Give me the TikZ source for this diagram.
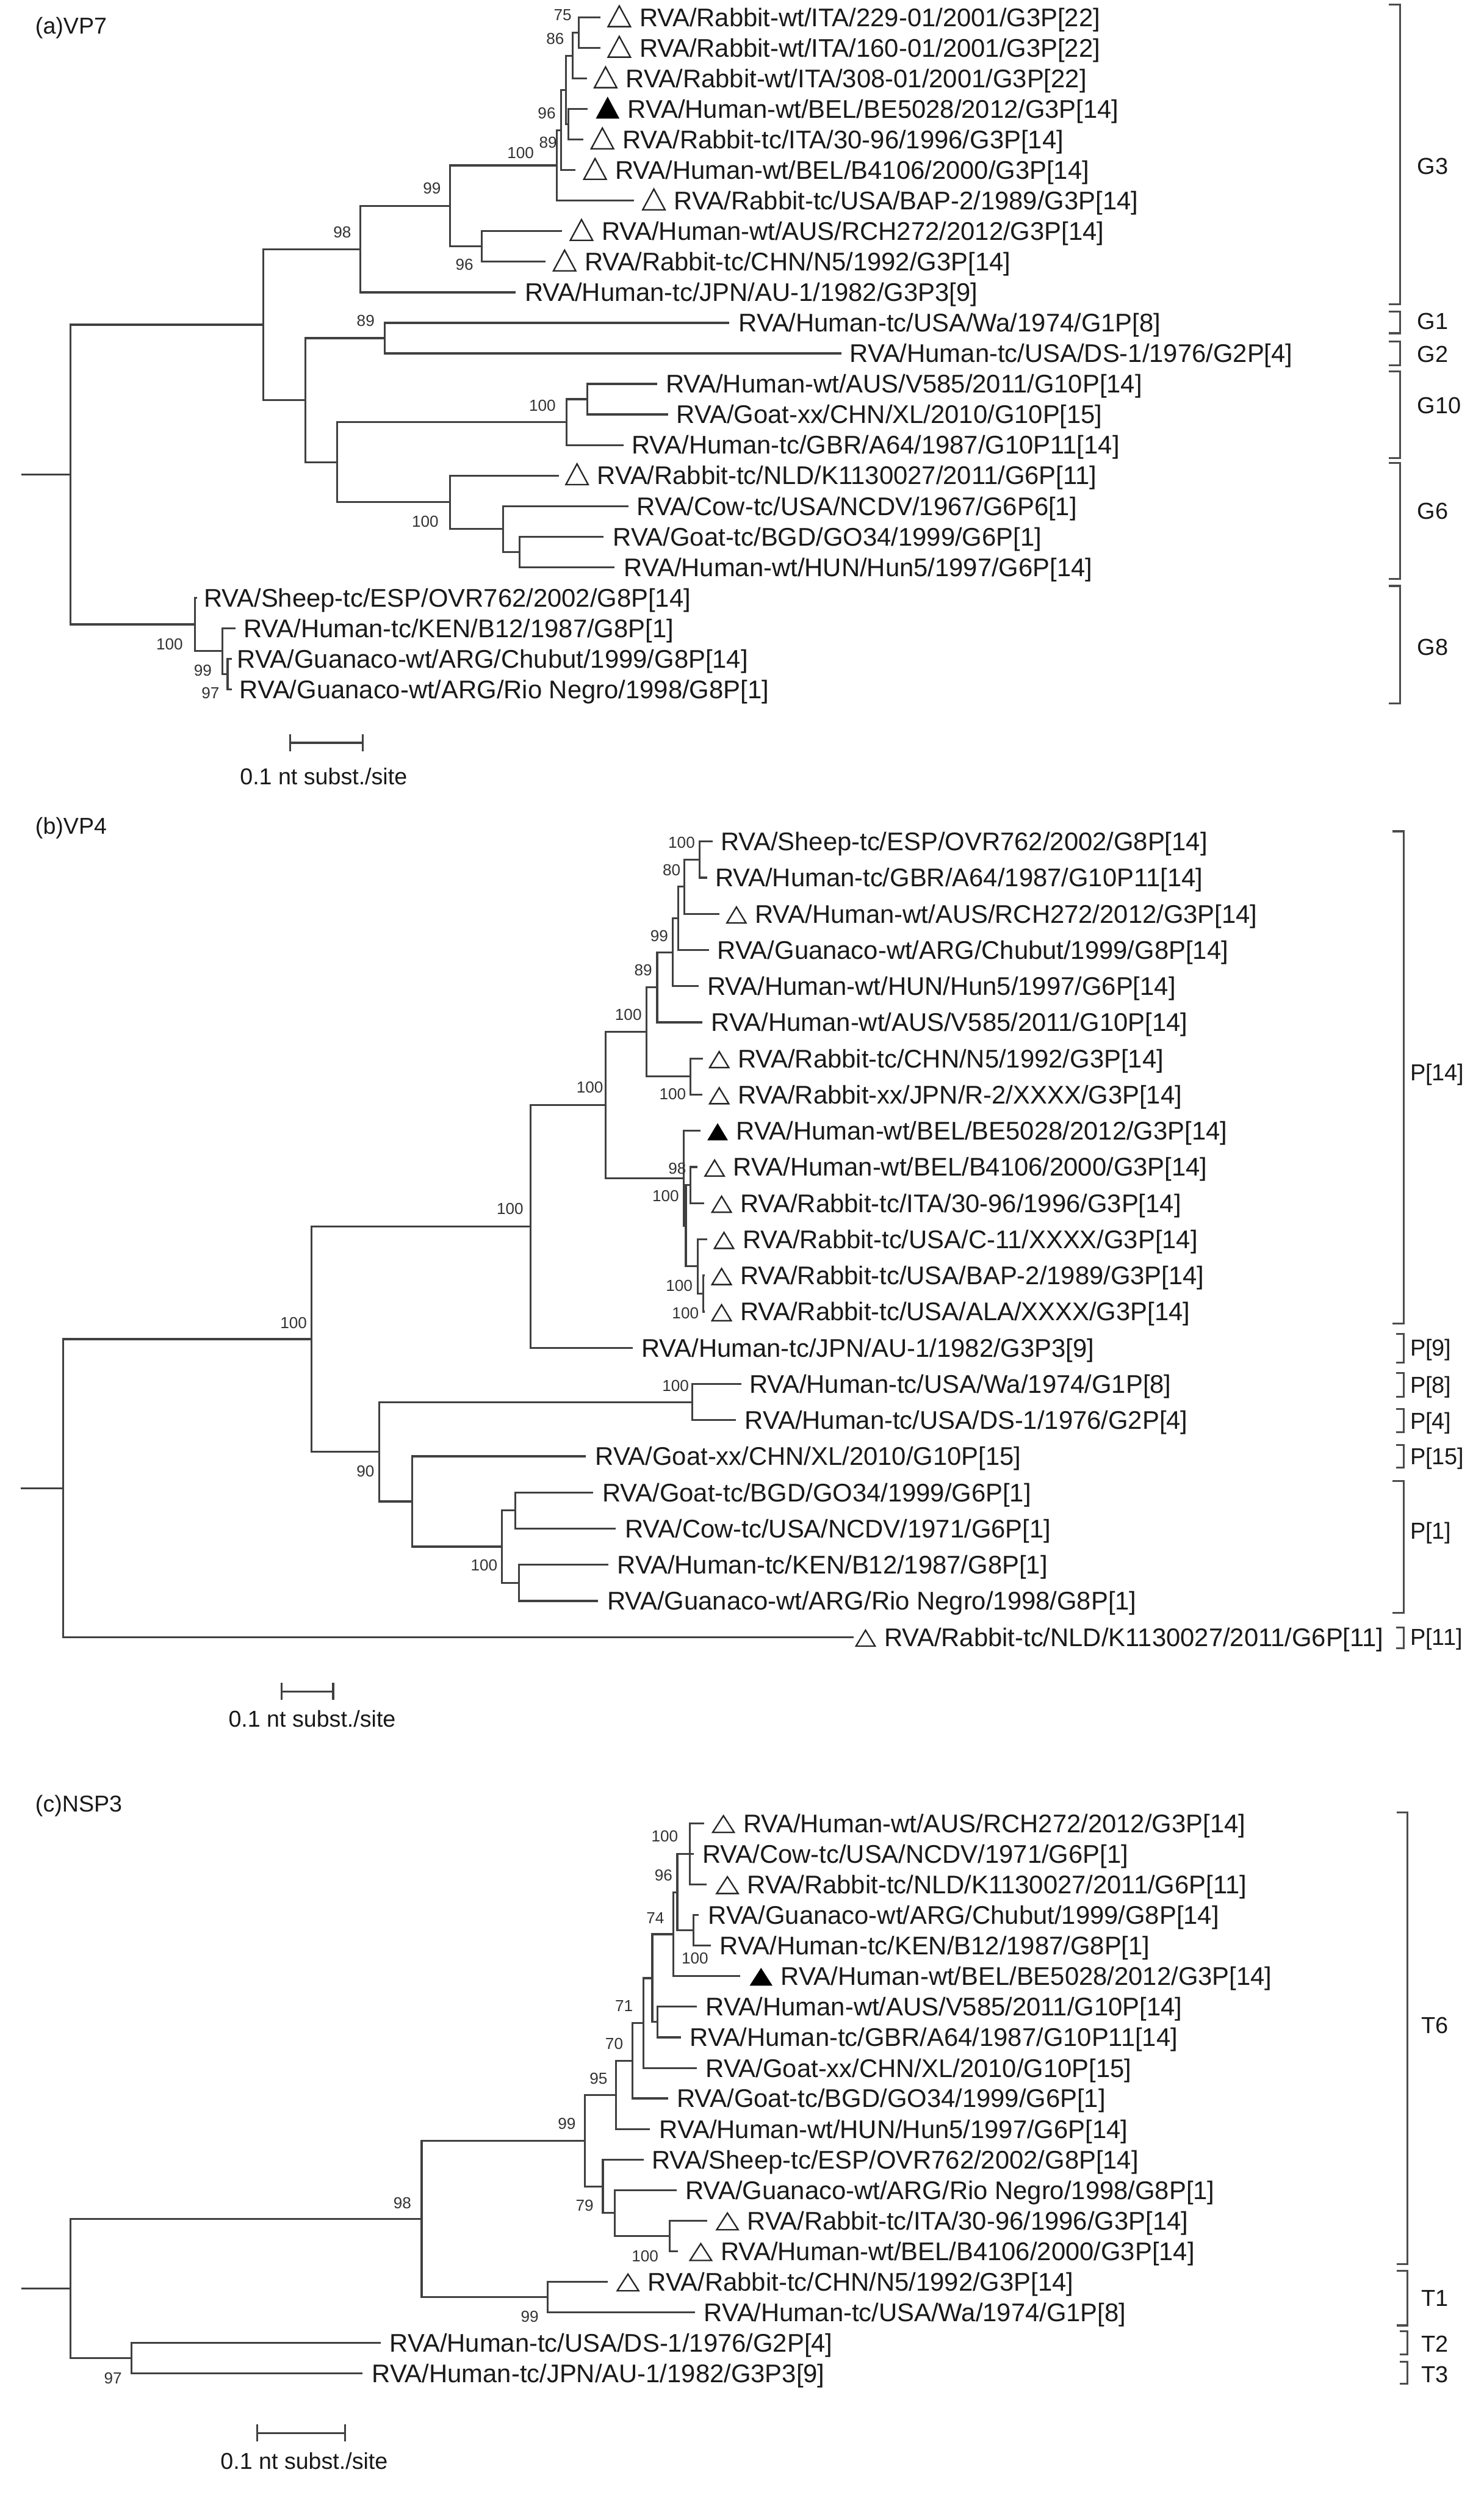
\documentclass[tikz,border=0pt]{standalone}
\usepackage{fontspec}
\setmainfont{Liberation Sans}
\newcommand\leafn[5]{\coordinate (#1) at (#2,#3); \node[lbl] (#1t) at (#4,{#3+5.7}) {#5};}
\newcommand\leafo[5]{\leafn{#1}{#2}{#3}{#4}{#5}\draw[otri] ({#4-5.5-\tw},{#3+5.7}) -- ++(\tw,0) -- ++({-\tw/2},{-\th}) -- cycle;}
\newcommand\leaff[5]{\leafn{#1}{#2}{#3}{#4}{#5}\draw[ftri] ({#4-5.5-\tw},{#3+5.7}) -- ++(\tw,0) -- ++({-\tw/2},{-\th}) -- cycle;}
\newcommand\jn[2]{\foreach \cc in {#2}{\draw[br] (#1) |- (\cc);}}
\newcommand\ip[3]{\coordinate (#1) at (#2,#3);}
\newcommand\bsv[4]{\node[bsl] (#1) at (#2,#3) {#4};}
\newcommand\cladebrack[4]{\draw[brk] ({#1-#4},#2) -- (#1,#2) -- (#1,#3) -- ({#1-#4},#3);}
\newcommand\cladelab[4]{\node[cld] (#1) at (#2,{#3+5.2}) {#4};}
\begin{document}
\begin{tikzpicture}[x=1pt,y=-1pt,
  br/.style={draw=black!75,line width=1.2pt},
  lbl/.style={font=\fontsize{16}{19}\selectfont,text=black!90,inner sep=0pt,anchor=base west},
  bsl/.style={font=\fontsize{10}{12}\selectfont,text=black!80,inner sep=0pt},
  cld/.style={font=\fontsize{14.5}{17}\selectfont,text=black!90,inner sep=0pt,anchor=base west},
  brk/.style={draw=black!70,line width=1.2pt},
  otri/.style={draw=black!85,line width=0.9pt,line join=miter},
  ftri/.style={draw=black,fill=black,line width=0.5pt},
  ttl/.style={font=\fontsize{14.4}{17}\selectfont,text=black!90,inner sep=0pt,anchor=base west},
  scl/.style={font=\fontsize{14.4}{17}\selectfont,text=black!90,inner sep=0pt,anchor=base}]
\fill[white] (0,0) rectangle (931,1568);
\useasboundingbox (0,0) rectangle (931,1568);

% ================= (a) VP7 =================
\node[ttl] (ta) at (22,21.2) {(a)VP7};
\def\tw{14}\def\th{13}
\leafo{a1}{376.6}{11.0}{401}{RVA/Rabbit-wt/ITA/229-01/2001/G3P[22]}
\leafo{a2}{376.6}{30.15}{401}{RVA/Rabbit-wt/ITA/160-01/2001/G3P[22]}
\leafo{a3}{368.1}{49.3}{392.4}{RVA/Rabbit-wt/ITA/308-01/2001/G3P[22]}
\leaff{a4}{368.7}{68.45}{393.7}{RVA/Human-wt/BEL/BE5028/2012/G3P[14]}
\leafo{a5}{366.1}{87.6}{390.4}{RVA/Rabbit-tc/ITA/30-96/1996/G3P[14]}
\leafo{a6}{360.8}{106.75}{385.8}{RVA/Human-wt/BEL/B4106/2000/G3P[14]}
\leafo{a7}{397.7}{125.9}{422.7}{RVA/Rabbit-tc/USA/BAP-2/1989/G3P[14]}
\leafo{a8}{352.7}{145.05}{377.3}{RVA/Human-wt/AUS/RCH272/2012/G3P[14]}
\leafo{a9}{342.1}{164.2}{366.7}{RVA/Rabbit-tc/CHN/N5/1992/G3P[14]}
\leafn{a10}{323.3}{183.35}{329.1}{RVA/Human-tc/JPN/AU-1/1982/G3P3[9]}
\leafn{a11}{457.5}{202.5}{463.3}{RVA/Human-tc/USA/Wa/1974/G1P[8]}
\leafn{a12}{528}{221.65}{533}{RVA/Human-tc/USA/DS-1/1976/G2P[4]}
\leafn{a13}{412.2}{240.8}{417.5}{RVA/Human-wt/AUS/V585/2011/G10P[14]}
\leafn{a14}{419.2}{259.95}{424.3}{RVA/Goat-xx/CHN/XL/2010/G10P[15]}
\leafn{a15}{391.1}{279.1}{396.2}{RVA/Human-tc/GBR/A64/1987/G10P11[14]}
\leafo{a16}{350.8}{298.25}{374.5}{RVA/Rabbit-tc/NLD/K1130027/2011/G6P[11]}
\leafn{a17}{394.3}{317.4}{399.4}{RVA/Cow-tc/USA/NCDV/1967/G6P6[1]}
\leafn{a18}{378.6}{336.55}{384.4}{RVA/Goat-tc/BGD/GO34/1999/G6P[1]}
\leafn{a19}{385.6}{355.7}{391.4}{RVA/Human-wt/HUN/Hun5/1997/G6P[14]}
\leafn{a20}{123.8}{374.85}{127.8}{RVA/Sheep-tc/ESP/OVR762/2002/G8P[14]}
\leafn{a21}{147.6}{394.0}{152.7}{RVA/Human-tc/KEN/B12/1987/G8P[1]}
\leafn{a22}{145.4}{413.15}{148.6}{RVA/Guanaco-wt/ARG/Chubut/1999/G8P[14]}
\leafn{a23}{145.4}{432.3}{150.2}{RVA/Guanaco-wt/ARG/Rio Negro/1998/G8P[1]}
\ip{aQ}{363.2}{20.58}\jn{aQ}{a1,a2}
\ip{aR}{359.2}{34.94}\jn{aR}{aQ,a3}
\ip{aT}{356.6}{78.03}\jn{aT}{a4,a5}
\ip{aS}{354.9}{56.48}\jn{aS}{aR,aT}
\ip{aV}{351.9}{81.62}\jn{aV}{aS,a6}
\ip{aD}{349.2}{103.76}\jn{aD}{aV,a7}
\ip{aE}{302.2}{154.63}\jn{aE}{a8,a9}
\ip{aC}{282.4}{129.19}\jn{aC}{aD,aE}
\ip{aB}{226.2}{156.27}\jn{aB}{aC,a10}
\ip{aG}{241.2}{212.08}\jn{aG}{a11,a12}
\ip{aJ}{368.4}{250.38}\jn{aJ}{a13,a14}
\ip{aI}{355.6}{264.74}\jn{aI}{aJ,a15}
\ip{aM}{325.9}{346.13}\jn{aM}{a18,a19}
\ip{aL}{315.7}{331.77}\jn{aL}{a17,aM}
\ip{aK}{282.4}{315.01}\jn{aK}{a16,aL}
\ip{aH}{211.5}{289.88}\jn{aH}{aI,aK}
\ip{aF}{191.7}{250.98}\jn{aF}{aG,aH}
\ip{aA}{165.2}{203.63}\jn{aA}{aB,aF}
\ip{aP}{142.8}{422.73}\jn{aP}{a22,a23}
\ip{aO}{139.6}{408.37}\jn{aO}{a21,aP}
\ip{aN}{122.4}{391.61}\jn{aN}{a20,aO}
\ip{aRt}{44.1}{297.62}\jn{aRt}{aA,aN}
\ip{aR0}{13.4}{297.62}\draw[br] (aR0) -- (aRt);
\bsv{ab1}{353}{9.6}{75}
\bsv{ab2}{348.3}{24.3}{86}
\bsv{ab3}{343}{70.9}{96}
\bsv{ab4}{343.8}{89.5}{89}
\bsv{ab5}{326.6}{95.8}{100}
\bsv{ab6}{271}{118.2}{99}
\bsv{ab7}{214.7}{145.8}{98}
\bsv{ab8}{291.4}{166.1}{96}
\bsv{ab9}{229.4}{201.3}{89}
\bsv{ab10}{340.3}{254.5}{100}
\bsv{ab11}{266.8}{327.3}{100}
\bsv{ab12}{106.4}{404}{100}
\bsv{ab13}{127.2}{420.6}{99}
\bsv{ab14}{132}{434.8}{97}
\cladebrack{878.4}{3.0}{190.9}{7}
\cladebrack{878.4}{195.5}{209}{7}
\cladebrack{878.4}{214.1}{229.1}{7}
\cladebrack{878.4}{233}{287.2}{7}
\cladebrack{878.4}{290.2}{363.2}{7}
\cladebrack{878.4}{367.5}{441.1}{7}
\cladelab{gG3}{889}{104}{G3}
\cladelab{gG1}{889}{201.5}{G1}
\cladelab{gG2}{889}{221.9}{G2}
\cladelab{gG10}{889}{254.1}{G10}
\cladelab{gG6}{889}{320.2}{G6}
\cladelab{gG8}{889}{405.9}{G8}
\coordinate (sa1) at (182.1,465.9); \coordinate (sa2) at (227.5,465.9);
\draw[br] (sa1) -- (sa2);
\draw[br] (182.1,460.5) -- (182.1,471.3);
\draw[br] (227.5,460.5) -- (227.5,471.3);
\node[scl] (sal) at (203,492) {0.1 nt subst./site};

% ================= (b) VP4 =================
\node[ttl] (tb) at (22,523.2) {(b)VP4};
\def\tw{12}\def\th{10}
\leafn{b1}{447.0}{527.8}{451.9}{RVA/Sheep-tc/ESP/OVR762/2002/G8P[14]}
\leafn{b2}{443.6}{550.48}{448.5}{RVA/Human-tc/GBR/A64/1987/G10P11[14]}
\leafo{b3}{451.4}{573.16}{473.5}{RVA/Human-wt/AUS/RCH272/2012/G3P[14]}
\leafn{b4}{444.8}{595.84}{449.9}{RVA/Guanaco-wt/ARG/Chubut/1999/G8P[14]}
\leafn{b5}{438.3}{618.52}{443.6}{RVA/Human-wt/HUN/Hun5/1997/G6P[14]}
\leafn{b6}{440.6}{641.2}{446.0}{RVA/Human-wt/AUS/V585/2011/G10P[14]}
\leafo{b7}{441.1}{663.88}{462.7}{RVA/Rabbit-tc/CHN/N5/1992/G3P[14]}
\leafo{b8}{440.6}{686.56}{462.7}{RVA/Rabbit-xx/JPN/R-2/XXXX/G3P[14]}
\leaff{b9}{439.6}{709.24}{461.7}{RVA/Human-wt/BEL/BE5028/2012/G3P[14]}
\leafo{b10}{437.7}{731.92}{459.8}{RVA/Human-wt/BEL/B4106/2000/G3P[14]}
\leafo{b11}{441.6}{754.6}{464.2}{RVA/Rabbit-tc/ITA/30-96/1996/G3P[14]}
\leafo{b12}{443.6}{777.28}{465.7}{RVA/Rabbit-tc/USA/C-11/XXXX/G3P[14]}
\leafo{b13}{442.1}{799.96}{464.2}{RVA/Rabbit-tc/USA/BAP-2/1989/G3P[14]}
\leafo{b14}{442.1}{822.64}{464.2}{RVA/Rabbit-tc/USA/ALA/XXXX/G3P[14]}
\leafn{b15}{396.9}{845.32}{402.3}{RVA/Human-tc/JPN/AU-1/1982/G3P3[9]}
\leafn{b16}{465.0}{868.0}{469.9}{RVA/Human-tc/USA/Wa/1974/G1P[8]}
\leafn{b17}{461.6}{890.68}{467.2}{RVA/Human-tc/USA/DS-1/1976/G2P[4]}
\leafn{b18}{367.6}{913.36}{373.3}{RVA/Goat-xx/CHN/XL/2010/G10P[15]}
\leafn{b19}{372.1}{936.04}{377.8}{RVA/Goat-tc/BGD/GO34/1999/G6P[1]}
\leafn{b20}{386.4}{958.72}{392.0}{RVA/Cow-tc/USA/NCDV/1971/G6P[1]}
\leafn{b21}{381.5}{981.4}{387.2}{RVA/Human-tc/KEN/B12/1987/G8P[1]}
\leafn{b22}{375.2}{1004.08}{380.8}{RVA/Guanaco-wt/ARG/Rio Negro/1998/G8P[1]}
\leafo{b23}{535.7}{1026.76}{554.5}{RVA/Rabbit-tc/NLD/K1130027/2011/G6P[11]}
\ip{bA1}{438.9}{539.14}\jn{bA1}{b1,b2}
\ip{bA2}{429.3}{556.15}\jn{bA2}{bA1,b3}
\ip{bA3}{425.4}{576.0}\jn{bA3}{bA2,b4}
\ip{bA4}{421.9}{597.26}\jn{bA4}{bA3,b5}
\ip{bA5}{412.3}{619.23}\jn{bA5}{bA4,b6}
\ip{bA7}{433.2}{675.22}\jn{bA7}{b7,b8}
\ip{bA6}{405.7}{647.23}\jn{bA6}{bA5,bA7}
\ip{bA11}{433.2}{743.26}\jn{bA11}{b10,b11}
\ip{bA13}{441.3}{811.3}\jn{bA13}{b13,b14}
\ip{bA12}{437.7}{794.29}\jn{bA12}{b12,bA13}
\ip{bA10}{430.3}{768.78}\jn{bA10}{bA11,bA12}
\ip{bA9}{428.8}{739.01}\jn{bA9}{b9,bA10}
\ip{bA8}{380.0}{693.12}\jn{bA8}{bA6,bA9}
\ip{bB8}{332.7}{769.22}\jn{bB8}{bA8,b15}
\ip{bB3}{434.2}{879.34}\jn{bB3}{b16,b17}
\ip{bB6}{323.3}{947.38}\jn{bB6}{b19,b20}
\ip{bB7}{325.5}{992.74}\jn{bB7}{b21,b22}
\ip{bB5}{315.0}{970.06}\jn{bB5}{bB6,bB7}
\ip{bB4}{258.6}{941.71}\jn{bB4}{b18,bB5}
\ip{bB2}{238.0}{910.53}\jn{bB2}{bB3,bB4}
\ip{bB1}{195.5}{839.88}\jn{bB1}{bB8,bB2}
\ip{bRt}{39.5}{933.32}\jn{bRt}{bB1,b23}
\ip{bR0}{13.2}{933.32}\draw[br] (bR0) -- (bRt);
\bsv{bb1}{427.6}{528.5}{100}
\bsv{bb2}{421.3}{545.8}{80}
\bsv{bb3}{413.6}{586.9}{99}
\bsv{bb4}{403.5}{608.5}{89}
\bsv{bb5}{394.2}{636.6}{100}
\bsv{bb6}{370}{682}{100}
\bsv{bb7}{422}{686.3}{100}
\bsv{bb8}{424.9}{732.7}{98}
\bsv{bb9}{417.6}{750}{100}
\bsv{bb10}{426.1}{806.2}{100}
\bsv{bb11}{430}{823.5}{100}
\bsv{bb12}{320}{758}{100}
\bsv{bb13}{184.2}{829.6}{100}
\bsv{bb14}{423.8}{869.1}{100}
\bsv{bb15}{229.3}{922.7}{90}
\bsv{bb16}{303.7}{981.9}{100}
\cladebrack{880.7}{521.4}{830.2}{7}
\cladebrack{880.7}{836.7}{854.5}{5}
\cladebrack{880.7}{861}{876}{5}
\cladebrack{880.7}{883.8}{898.1}{5}
\cladebrack{880.7}{906.3}{920.6}{5}
\cladebrack{880.7}{928.8}{1011.7}{7}
\cladebrack{880.7}{1020.6}{1033.8}{5}
\cladelab{gP14}{884.5}{672.4}{P[14]}
\cladelab{gP9}{884.5}{845.3}{P[9]}
\cladelab{gP8}{884.5}{868.5}{P[8]}
\cladelab{gP4}{884.5}{891}{P[4]}
\cladelab{gP15}{884.5}{913.5}{P[15]}
\cladelab{gP1}{884.5}{959.9}{P[1]}
\cladelab{gP11}{884.5}{1026.7}{P[11]}
\coordinate (sb1) at (176.7,1060.9); \coordinate (sb2) at (209,1060.9);
\draw[br] (sb1) -- (sb2);
\draw[br] (176.7,1055.4) -- (176.7,1066.3);
\draw[br] (209,1055.4) -- (209,1066.3);
\node[scl] (sbl) at (195.8,1083) {0.1 nt subst./site};

% ================= (c) NSP3 =================
\node[ttl] (tc) at (22,1136.2) {(c)NSP3};
\def\tw{13.5}\def\th{10.5}
\leafo{c1}{441.6}{1143.6}{466.1}{RVA/Human-wt/AUS/RCH272/2012/G3P[14]}
\leafn{c2}{435.2}{1162.8}{440.6}{RVA/Cow-tc/USA/NCDV/1971/G6P[1]}
\leafo{c3}{443.1}{1181.9}{468.6}{RVA/Rabbit-tc/NLD/K1130027/2011/G6P[11]}
\leafn{c4}{438.3}{1201.1}{444.1}{RVA/Guanaco-wt/ARG/Chubut/1999/G8P[14]}
\leafn{c5}{446.0}{1220.3}{451.4}{RVA/Human-tc/KEN/B12/1987/G8P[1]}
\leaff{c6}{464.2}{1239.5}{489.7}{RVA/Human-wt/BEL/BE5028/2012/G3P[14]}
\leafn{c7}{437.2}{1258.6}{442.6}{RVA/Human-wt/AUS/V585/2011/G10P[14]}
\leafn{c8}{427.3}{1277.8}{432.7}{RVA/Human-tc/GBR/A64/1987/G10P11[14]}
\leafn{c9}{437.2}{1297.0}{442.6}{RVA/Goat-xx/CHN/XL/2010/G10P[15]}
\leafn{c10}{419.0}{1316.1}{424.5}{RVA/Goat-tc/BGD/GO34/1999/G6P[1]}
\leafn{c11}{407.7}{1335.3}{413.6}{RVA/Human-wt/HUN/Hun5/1997/G6P[14]}
\leafn{c12}{403.8}{1354.5}{408.7}{RVA/Sheep-tc/ESP/OVR762/2002/G8P[14]}
\leafn{c13}{424.4}{1373.6}{429.8}{RVA/Guanaco-wt/ARG/Rio Negro/1998/G8P[1]}
\leafo{c14}{443.6}{1392.8}{468.6}{RVA/Rabbit-tc/ITA/30-96/1996/G3P[14]}
\leafo{c15}{425.4}{1412.0}{451.9}{RVA/Human-wt/BEL/B4106/2000/G3P[14]}
\leafo{c16}{381.2}{1431.1}{406.2}{RVA/Rabbit-tc/CHN/N5/1992/G3P[14]}
\leafn{c17}{436.1}{1450.3}{441.5}{RVA/Human-tc/USA/Wa/1974/G1P[8]}
\leafn{c18}{239.0}{1469.5}{244.4}{RVA/Human-tc/USA/DS-1/1976/G2P[4]}
\leafn{c19}{227.5}{1488.7}{233.2}{RVA/Human-tc/JPN/AU-1/1982/G3P3[9]}
\ip{cN14}{432.8}{1162.75}\jn{cN14}{c1,c2,c3}
\ip{cN16}{435.0}{1210.7}\jn{cN16}{c4,c5}
\ip{cN15}{424.9}{1186.73}\jn{cN15}{cN14,cN16}
\ip{cN17}{422.4}{1213.11}\jn{cN17}{cN15,c6}
\ip{cN13}{412.4}{1268.2}\jn{cN13}{c7,c8}
\ip{cN18}{409.2}{1240.66}\jn{cN18}{cN17,cN13}
\ip{cN10}{403.8}{1268.83}\jn{cN10}{cN18,c9}
\ip{cN9}{396.9}{1292.47}\jn{cN9}{cN10,c10}
\ip{cN5}{386.6}{1313.88}\jn{cN5}{cN9,c11}
\ip{cN8}{420.0}{1402.4}\jn{cN8}{c14,c15}
\ip{cN7}{385.6}{1388.0}\jn{cN7}{c13,cN8}
\ip{cN6}{378.2}{1371.25}\jn{cN6}{c12,cN7}
\ip{cN3}{366.8}{1342.57}\jn{cN3}{cN5,cN6}
\ip{cN4}{343.5}{1440.7}\jn{cN4}{c16,c17}
\ip{cN2}{264.5}{1391.63}\jn{cN2}{cN3,cN4}
\ip{cN1}{82.4}{1479.1}\jn{cN1}{c18,c19}
\ip{cRt}{44.1}{1435.37}\jn{cRt}{cN2,cN1}
\ip{cR0}{13.4}{1435.37}\draw[br] (cR0) -- (cRt);
\bsv{cb1}{417}{1151.5}{100}
\bsv{cb2}{416.3}{1176.1}{96}
\bsv{cb3}{411.1}{1202.8}{74}
\bsv{cb4}{436}{1228.4}{100}
\bsv{cb5}{391.5}{1258.1}{71}
\bsv{cb6}{385.3}{1281.7}{70}
\bsv{cb7}{375.5}{1303.5}{95}
\bsv{cb8}{355.6}{1332.1}{99}
\bsv{cb9}{366.8}{1383.4}{79}
\bsv{cb10}{404.7}{1415}{100}
\bsv{cb11}{252.4}{1381.7}{98}
\bsv{cb12}{332.3}{1452.8}{99}
\bsv{cb13}{70.9}{1491.7}{97}
\cladebrack{883.1}{1136.6}{1420.1}{7}
\cladebrack{883.1}{1424.3}{1458.5}{7}
\cladebrack{883.1}{1462.2}{1476.8}{5}
\cladebrack{883.1}{1481.2}{1495.2}{5}
\cladelab{gT6}{891.4}{1270.3}{T6}
\cladelab{gT1}{891.4}{1441.4}{T1}
\cladelab{gT2}{891.4}{1470}{T2}
\cladelab{gT3}{891.4}{1489}{T3}
\coordinate (sc1) at (161.3,1526); \coordinate (sc2) at (216.6,1526);
\draw[br] (sc1) -- (sc2);
\draw[br] (161.3,1520.6) -- (161.3,1531.4);
\draw[br] (216.6,1520.6) -- (216.6,1531.4);
\node[scl] (scll) at (190.8,1548.5) {0.1 nt subst./site};
\end{tikzpicture}
\end{document}
